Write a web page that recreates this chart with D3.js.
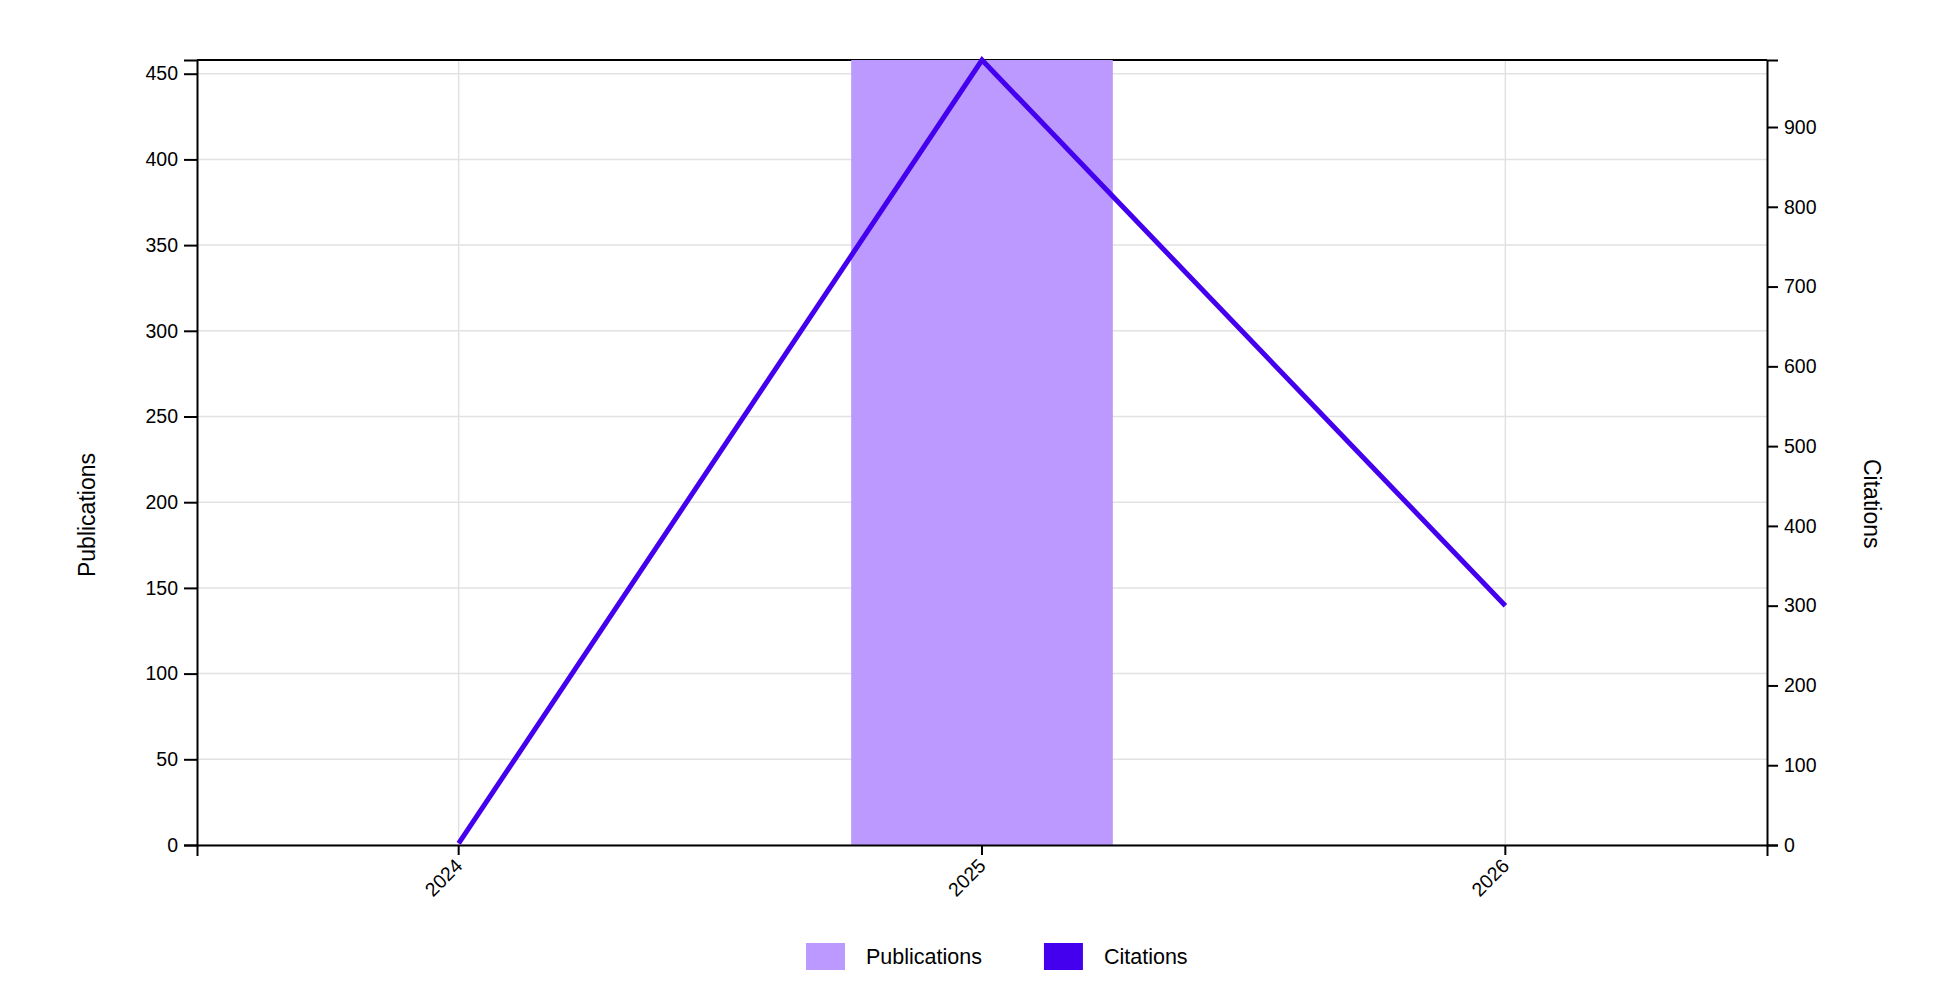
<!DOCTYPE html>
<html>
<head>
<meta charset="utf-8">
<script src="https://cdn.jsdelivr.net/npm/d3@7"></script>
<style>
  body { margin: 0; background: #fff; }
  text { font-family: "Liberation Sans", Arial, sans-serif; fill: #000; }
</style>
</head>
<body>
<svg id="chart" width="1942" height="982"></svg>
<script>
const years = ["2024", "2025", "2026"];
const publications = [0, 458, 0];
const citations = [2, 984, 300];
const pubTicks = [0, 50, 100, 150, 200, 250, 300, 350, 400, 450];
const citeTicks = [0, 100, 200, 300, 400, 500, 600, 700, 800, 900];
const seriesNames = ["Publications", "Citations"];
const seriesColors = ["#bb99ff", "#4400ee"];

const svg = d3.select('#chart');
const width = +svg.attr('width');
const height = +svg.attr('height');
const margin = { top: 60, right: 175, bottom: 137, left: 197 };
const innerW = width - margin.left - margin.right;
const innerH = height - margin.top - margin.bottom;

const x = d3.scaleBand().domain(years).range([0, innerW]).padding(0);
const yL = d3.scaleLinear().domain([0, d3.max(publications)]).range([innerH, 0]);
const yR = d3.scaleLinear().domain([0, d3.max(citations)]).range([innerH, 0]);

const g = svg.append('g')
    .attr('transform', 'translate(' + margin.left + ',' + margin.top + ')');

// grid
const grid = g.append('g').attr('class', 'grid');
grid.selectAll('.hgrid')
    .data(pubTicks)
    .enter().append('line')
    .attr('x1', 0).attr('x2', innerW)
    .attr('y1', d => yL(d)).attr('y2', d => yL(d))
    .style('stroke', '#e2e2e2').style('stroke-width', 1.5);
grid.selectAll('.vgrid')
    .data(years)
    .enter().append('line')
    .attr('x1', d => x(d) + x.bandwidth() / 2).attr('x2', d => x(d) + x.bandwidth() / 2)
    .attr('y1', 0).attr('y2', innerH)
    .style('stroke', '#e2e2e2').style('stroke-width', 1.5);

// top border
g.append('line')
    .attr('x1', 0).attr('x2', innerW)
    .attr('y1', 0).attr('y2', 0)
    .style('stroke', '#000').style('stroke-width', 2);

// bars
const rows = years.map((y, i) => ({ year: y, pub: publications[i], cite: citations[i] }));
g.selectAll('.bar')
    .data(rows)
    .enter().append('rect')
    .attr('class', 'bar')
    .attr('x', d => x(d.year) + x.bandwidth() / 4)
    .attr('width', x.bandwidth() / 2)
    .attr('y', d => yL(d.pub))
    .attr('height', d => innerH - yL(d.pub))
    .style('fill', seriesColors[0]);

// axes
const styleAxis = function(ag) {
    ag.attr('font-size', 19.5).attr('font-family', '"Liberation Sans", Arial, sans-serif');
    ag.selectAll('path, line').style('stroke', '#000').style('stroke-width', 2);
    ag.selectAll('text').style('fill', '#000');
};

const xAxisG = g.append('g')
    .attr('transform', 'translate(0,' + innerH + ')')
    .call(d3.axisBottom(x).tickSize(10).tickSizeOuter(11))
    .call(styleAxis);
xAxisG.selectAll('.tick text')
    .attr('x', 0).attr('y', 0).attr('dy', 0)
    .attr('text-anchor', 'end')
    .attr('transform', 'translate(5,22) rotate(-45)');

g.append('g')
    .call(d3.axisLeft(yL).tickValues(pubTicks).tickSize(13).tickSizeOuter(13).tickPadding(6))
    .call(styleAxis);

g.append('g')
    .attr('transform', 'translate(' + innerW + ',0)')
    .call(d3.axisRight(yR).tickValues(citeTicks).tickSize(11).tickSizeOuter(11).tickPadding(6))
    .call(styleAxis);

// citations line
const line = d3.line()
    .x(d => x(d.year) + x.bandwidth() / 2)
    .y(d => yR(d.cite));
g.append('path')
    .datum(rows)
    .attr('d', line)
    .style('fill', 'none')
    .style('stroke', seriesColors[1])
    .style('stroke-width', 5);

// axis titles
svg.append('text')
    .attr('transform', 'translate(95,453) rotate(-90)')
    .attr('text-anchor', 'end')
    .style('font-size', '23px')
    .text('Publications');
svg.append('text')
    .attr('transform', 'translate(1864,459) rotate(90)')
    .attr('text-anchor', 'start')
    .style('font-size', '23px')
    .text('Citations');

// legend
const legend = svg.append('g').attr('transform', 'translate(806,943)');
let lx = 0;
seriesNames.forEach((name, i) => {
    const item = legend.append('g').attr('transform', 'translate(' + lx + ',0)');
    item.append('rect')
        .attr('width', 39).attr('height', 27)
        .style('fill', seriesColors[i]);
    const t = item.append('text')
        .attr('x', 60).attr('y', 21)
        .style('font-size', '21.5px')
        .text(name);
    lx += 60 + t.node().getComputedTextLength() + 62;
});
</script>
</body>
</html>
